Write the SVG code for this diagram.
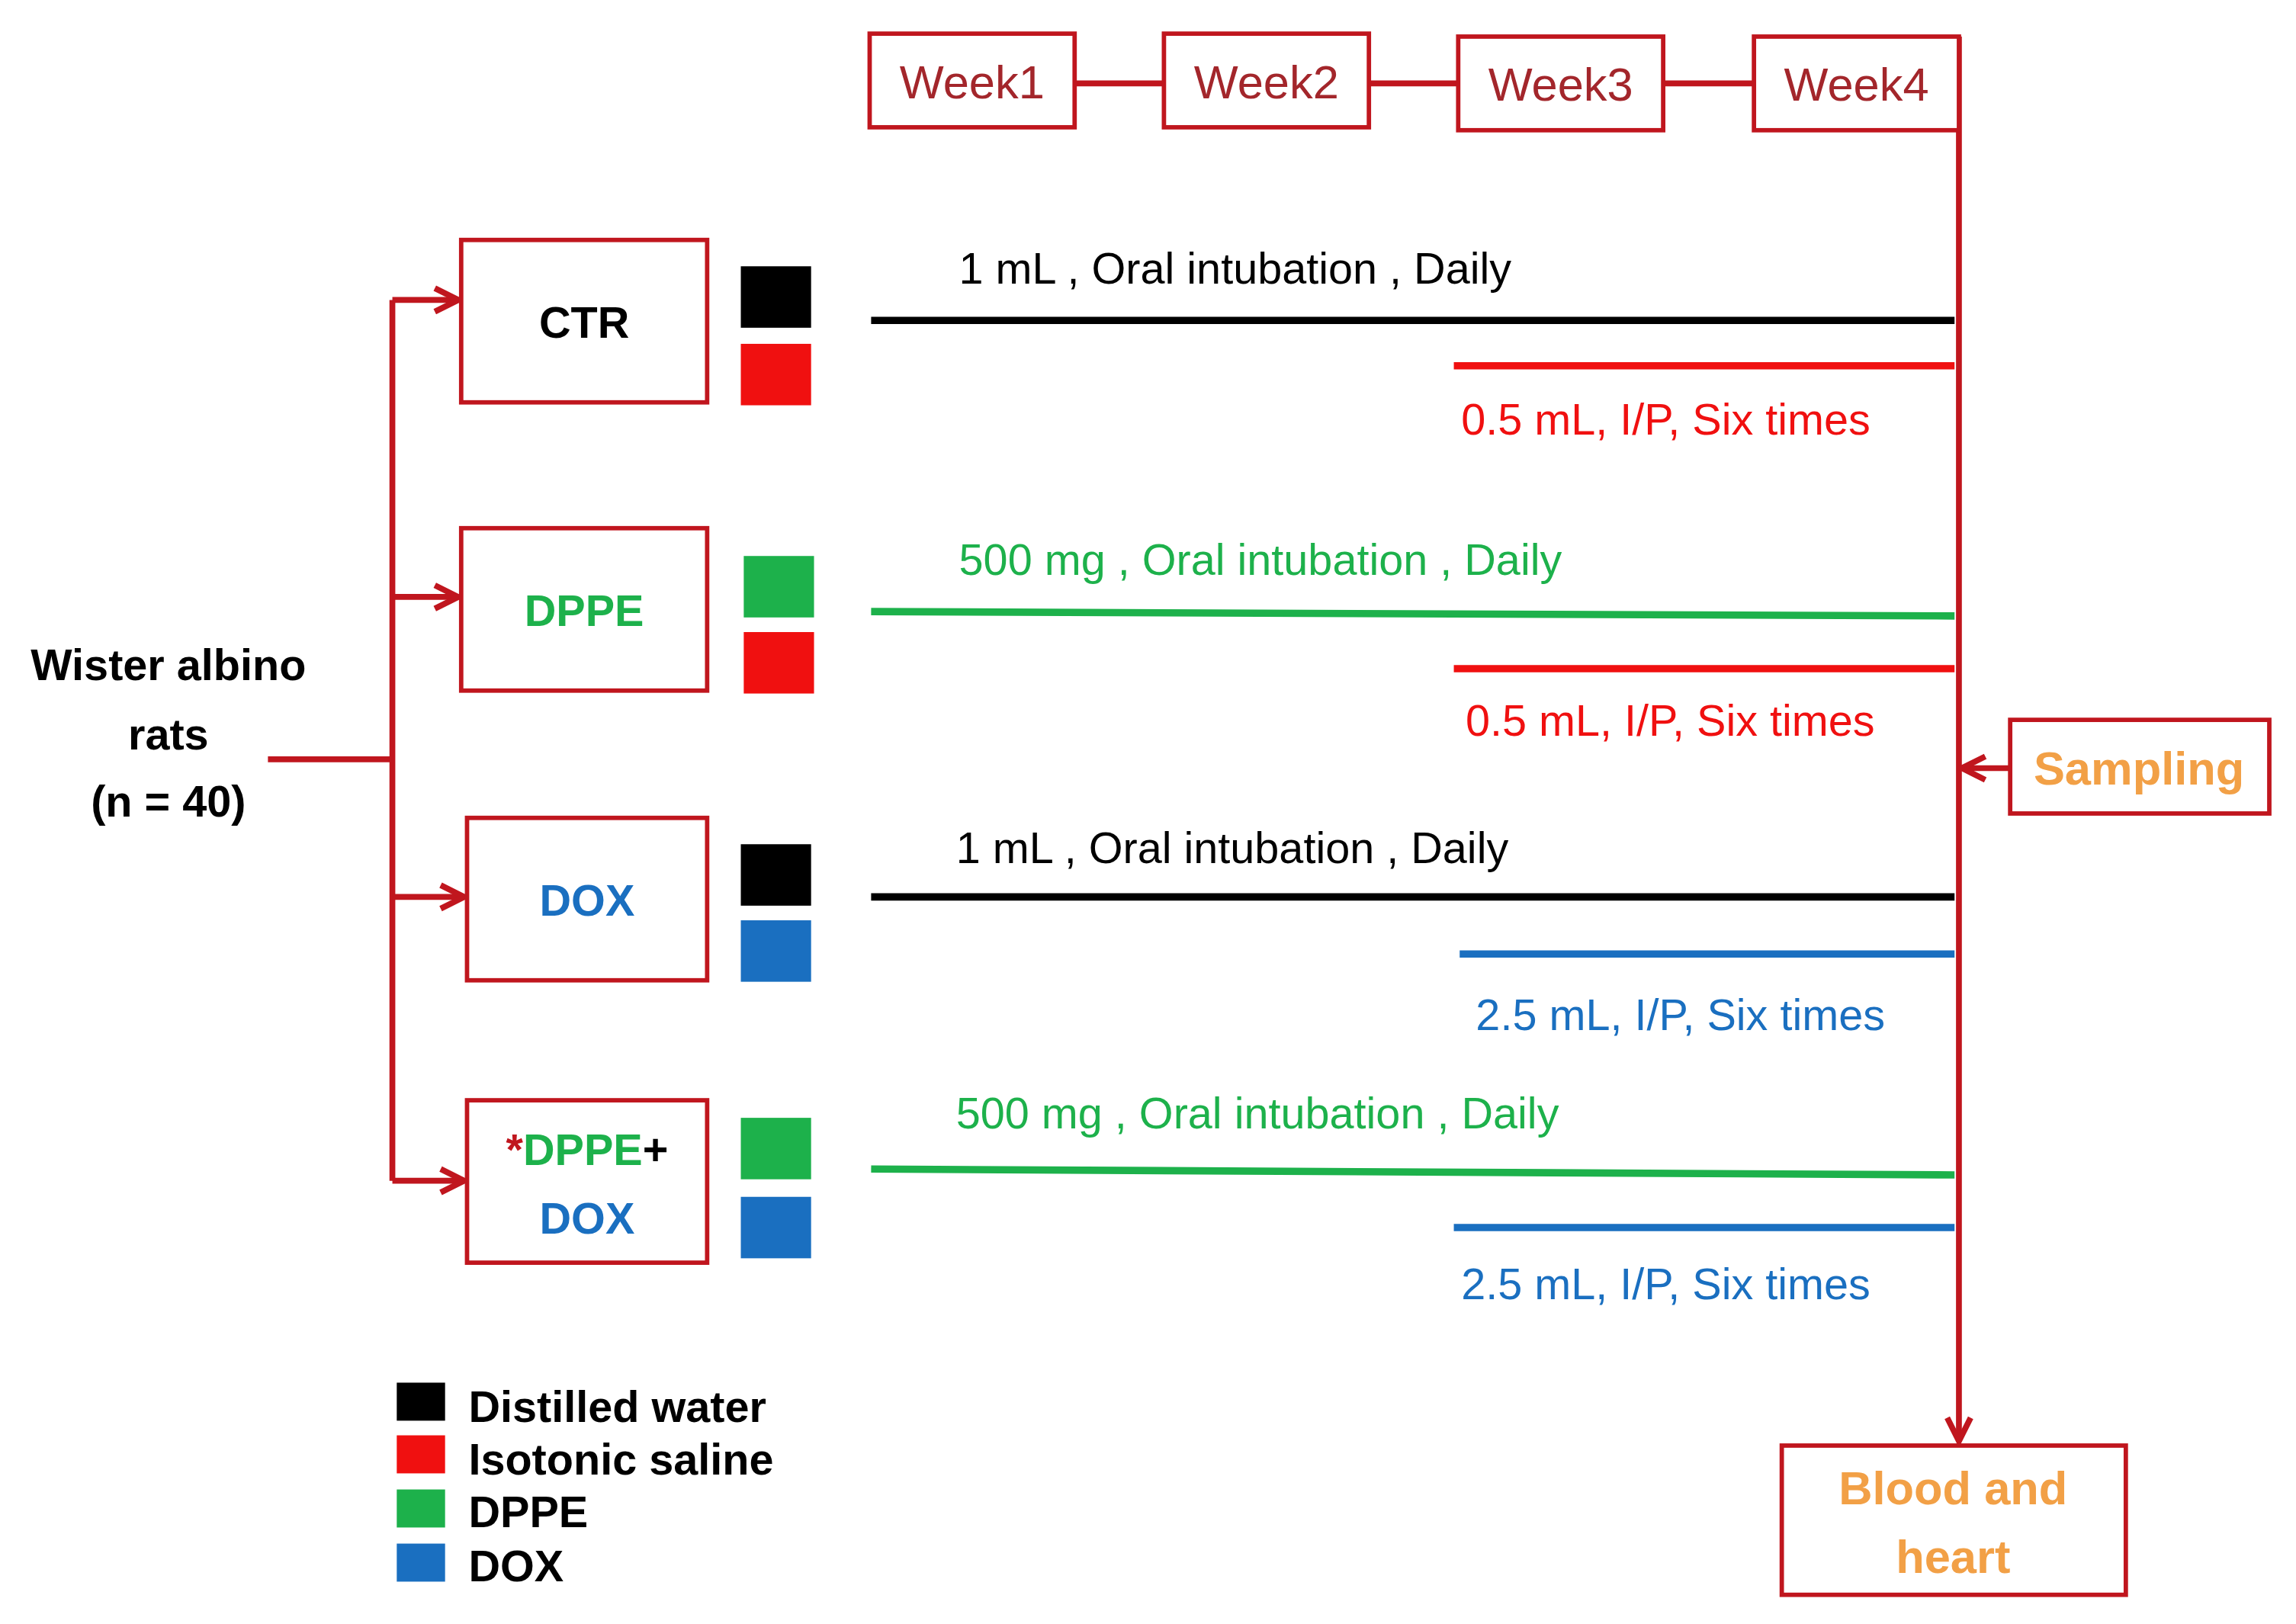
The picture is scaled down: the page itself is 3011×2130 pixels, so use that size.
<svg xmlns="http://www.w3.org/2000/svg" width="3011" height="2130" viewBox="0 0 3011 2130">
<style>
.box{fill:#fff;stroke:#c0161e;stroke-width:3}
.lk{stroke:#c0161e;stroke-width:4;fill:none}
.t{font-family:"Liberation Sans",Arial,sans-serif;font-size:30px}
.b{font-weight:bold}
.wk{fill:#a3262b;font-size:32px}
.or{fill:#f2a046;font-weight:bold;font-size:32px}
</style>
<defs>
<marker id="ah" viewBox="0 0 20 20" refX="18" refY="10" markerWidth="20" markerHeight="20" markerUnits="userSpaceOnUse" orient="auto">
<path d="M2,2 L18,10 L2,18" fill="none" stroke="#c0161e" stroke-width="4"/>
</marker>
</defs>
<rect width="3011" height="2130" fill="#fff"/>
<g transform="scale(1.92,1.919)">
<g id="connectors">
<line class="lk" x1="734" y1="57" x2="795" y2="57"/>
<line class="lk" x1="935" y1="57" x2="996" y2="57"/>
<line class="lk" x1="1136" y1="57" x2="1198" y2="57"/>
<line class="lk" x1="1338" y1="25" x2="1338" y2="985" marker-end="url(#ah)"/>
<line class="lk" x1="1373" y1="525" x2="1340" y2="525" marker-end="url(#ah)"/>
<line class="lk" x1="183" y1="519" x2="268" y2="519"/>
<line class="lk" x1="268" y1="205" x2="268" y2="807"/>
<line class="lk" x1="268" y1="205" x2="313" y2="205" marker-end="url(#ah)"/>
<line class="lk" x1="268" y1="408" x2="313" y2="408" marker-end="url(#ah)"/>
<line class="lk" x1="268" y1="613" x2="317" y2="613" marker-end="url(#ah)"/>
<line class="lk" x1="268" y1="807" x2="317" y2="807" marker-end="url(#ah)"/>
<g stroke-width="5">
<line x1="595" y1="219" x2="1335" y2="219" stroke="#000"/>
<line x1="993" y1="250" x2="1335" y2="250" stroke="#f01010"/>
<line x1="595" y1="418" x2="1335" y2="421" stroke="#1db14b"/>
<line x1="993" y1="457" x2="1335" y2="457" stroke="#f01010"/>
<line x1="595" y1="613" x2="1335" y2="613" stroke="#000"/>
<line x1="997" y1="652" x2="1335" y2="652" stroke="#1a6fc0"/>
<line x1="595" y1="799" x2="1335" y2="803" stroke="#1db14b"/>
<line x1="993" y1="839" x2="1335" y2="839" stroke="#1a6fc0"/>
</g>
</g>
<g id="week1"><rect class="box" x="594" y="23" width="140" height="64"/><text class="t wk" x="664" y="67" text-anchor="middle">Week1</text></g>
<g id="week2"><rect class="box" x="795" y="23" width="140" height="64"/><text class="t wk" x="865" y="67" text-anchor="middle">Week2</text></g>
<g id="week3"><rect class="box" x="996" y="25" width="140" height="64"/><text class="t wk" x="1066" y="69" text-anchor="middle">Week3</text></g>
<g id="week4"><rect class="box" x="1198" y="25" width="140" height="64"/><text class="t wk" x="1268" y="69" text-anchor="middle">Week4</text></g>
<g id="sampling"><rect class="box" x="1373" y="492" width="177" height="64"/><text class="t or" x="1461" y="536" text-anchor="middle">Sampling</text></g>
<g id="blood"><rect class="box" x="1217" y="988" width="235" height="102"/><text class="t or" x="1334" y="1028" text-anchor="middle">Blood and</text><text class="t or" x="1334" y="1075" text-anchor="middle">heart</text></g>
<g id="wister"><text class="t b" x="115" y="465" text-anchor="middle">Wister  albino</text><text class="t b" x="115" y="512" text-anchor="middle">rats</text><text class="t b" x="115" y="558" text-anchor="middle">(n = 40)</text></g>
<g id="ctr"><rect class="box" x="315" y="164" width="168" height="111"/><text class="t b" x="399" y="231" text-anchor="middle">CTR</text>
<rect x="506" y="182" width="48" height="42" fill="#000"/><rect x="506" y="235" width="48" height="42" fill="#f01010"/></g>
<g id="dppe"><rect class="box" x="315" y="361" width="168" height="111"/><text class="t b" x="399" y="428" text-anchor="middle" fill="#1db14b">DPPE</text>
<rect x="508" y="380" width="48" height="42" fill="#1db14b"/><rect x="508" y="432" width="48" height="42" fill="#f01010"/></g>
<g id="dox"><rect class="box" x="319" y="559" width="164" height="111"/><text class="t b" x="401" y="626" text-anchor="middle" fill="#1a6fc0">DOX</text>
<rect x="506" y="577" width="48" height="42" fill="#000"/><rect x="506" y="629" width="48" height="42" fill="#1a6fc0"/></g>
<g id="dppedox"><rect class="box" x="319" y="752" width="164" height="111"/>
<text class="t b" x="401" y="796" text-anchor="middle"><tspan fill="#c0161e">*</tspan><tspan fill="#1db14b">DPPE</tspan><tspan fill="#000">+</tspan></text>
<text class="t b" x="401" y="843" text-anchor="middle" fill="#1a6fc0">DOX</text>
<rect x="506" y="764" width="48" height="42" fill="#1db14b"/><rect x="506" y="818" width="48" height="42" fill="#1a6fc0"/></g>
<g id="labels">
<text class="t" x="655" y="194" fill="#000">1 mL , Oral intubation , Daily</text>
<text class="t" x="998" y="297" fill="#f01010">0.5 mL, I/P, Six times</text>
<text class="t" x="655" y="393" fill="#1db14b">500 mg , Oral intubation , Daily</text>
<text class="t" x="1001" y="503" fill="#f01010">0.5 mL, I/P, Six times</text>
<text class="t" x="653" y="590" fill="#000">1 mL , Oral intubation , Daily</text>
<text class="t" x="1008" y="704" fill="#1a6fc0">2.5 mL, I/P, Six times</text>
<text class="t" x="653" y="771" fill="#1db14b">500 mg , Oral intubation , Daily</text>
<text class="t" x="998" y="888" fill="#1a6fc0">2.5 mL, I/P, Six times</text>
</g>
<g id="legend">
<rect x="271" y="945" width="33" height="26" fill="#000"/><text class="t b" x="320" y="972" font-size="28">Distilled water</text>
<rect x="271" y="981" width="33" height="26" fill="#f01010"/><text class="t b" x="320" y="1008" font-size="28">Isotonic saline</text>
<rect x="271" y="1018" width="33" height="26" fill="#1db14b"/><text class="t b" x="320" y="1044" font-size="28">DPPE</text>
<rect x="271" y="1055" width="33" height="26" fill="#1a6fc0"/><text class="t b" x="320" y="1081" font-size="28">DOX</text>
</g>
</g>
</svg>
